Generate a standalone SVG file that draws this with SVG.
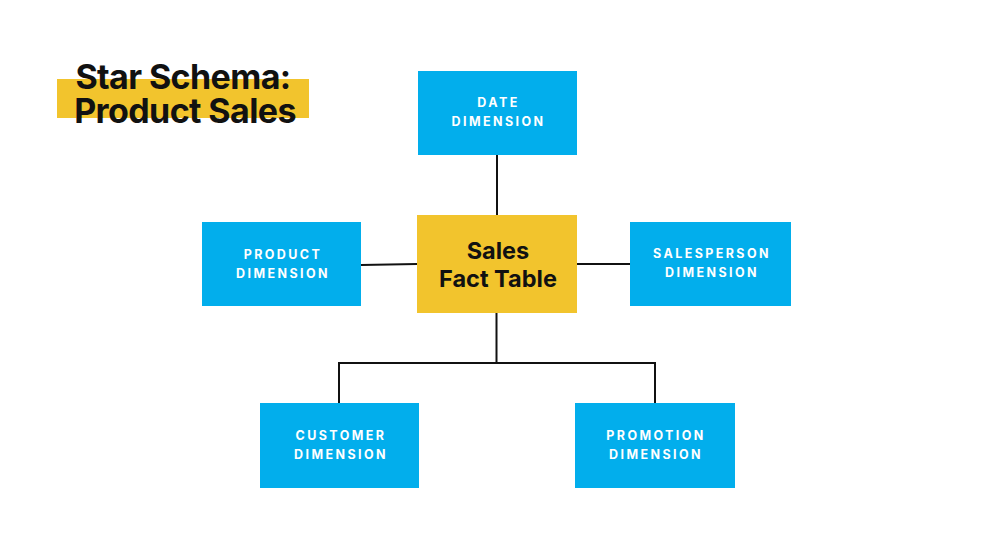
<svg xmlns="http://www.w3.org/2000/svg" width="993" height="559" viewBox="0 0 993 559">
<style>
.dim{fill:#02aeec}
.dt{font-family:Inter,"Liberation Sans",sans-serif;font-weight:700;font-size:12.5px;fill:#fff;letter-spacing:2.4px;text-anchor:middle}
.ft{font-family:Inter,"Liberation Sans",sans-serif;font-weight:700;font-size:23.5px;fill:#111;text-anchor:middle}
.ttl{font-family:Inter,"Liberation Sans",sans-serif;font-weight:700;font-size:34px;fill:#111;text-anchor:middle;letter-spacing:-0.6px}
.c{stroke:#111;stroke-width:2;fill:none}
</style>
<rect width="993" height="559" fill="#fff"/>
<g id="title">
<rect x="57" y="79" width="252" height="39" fill="#f2c42d"/>
<text class="ttl" x="183" y="89">Star Schema:</text>
<text class="ttl" x="185" y="123">Product Sales</text>
</g>
<g id="connectors">
<line class="c" x1="497" y1="155" x2="497" y2="215"/>
<line class="c" x1="361" y1="265" x2="417" y2="264"/>
<line class="c" x1="577" y1="264" x2="630" y2="264"/>
<polyline class="c" points="496.5,313 496.5,363"/>
<polyline class="c" points="339,403 339,363 655,363 655,403"/>
</g>
<g id="date">
<rect class="dim" x="418" y="71" width="159" height="84"/>
<text class="dt" x="498.5" y="107">DATE</text>
<text class="dt" x="498.5" y="126">DIMENSION</text>
</g>
<g id="fact">
<rect x="417" y="215" width="160" height="98" fill="#f2c42d"/>
<text class="ft" x="498" y="259">Sales</text>
<text class="ft" x="498" y="287">Fact Table</text>
</g>
<g id="product">
<rect class="dim" x="202" y="222" width="159" height="84"/>
<text class="dt" x="283" y="259">PRODUCT</text>
<text class="dt" x="283" y="278">DIMENSION</text>
</g>
<g id="salesperson">
<rect class="dim" x="630" y="222" width="161" height="84"/>
<text class="dt" x="712" y="258">SALESPERSON</text>
<text class="dt" x="712" y="277">DIMENSION</text>
</g>
<g id="customer">
<rect class="dim" x="260" y="403" width="159" height="85"/>
<text class="dt" x="341" y="440">CUSTOMER</text>
<text class="dt" x="341" y="459">DIMENSION</text>
</g>
<g id="promotion">
<rect class="dim" x="575" y="403" width="160" height="85"/>
<text class="dt" x="656" y="440">PROMOTION</text>
<text class="dt" x="656" y="459">DIMENSION</text>
</g>
</svg>
